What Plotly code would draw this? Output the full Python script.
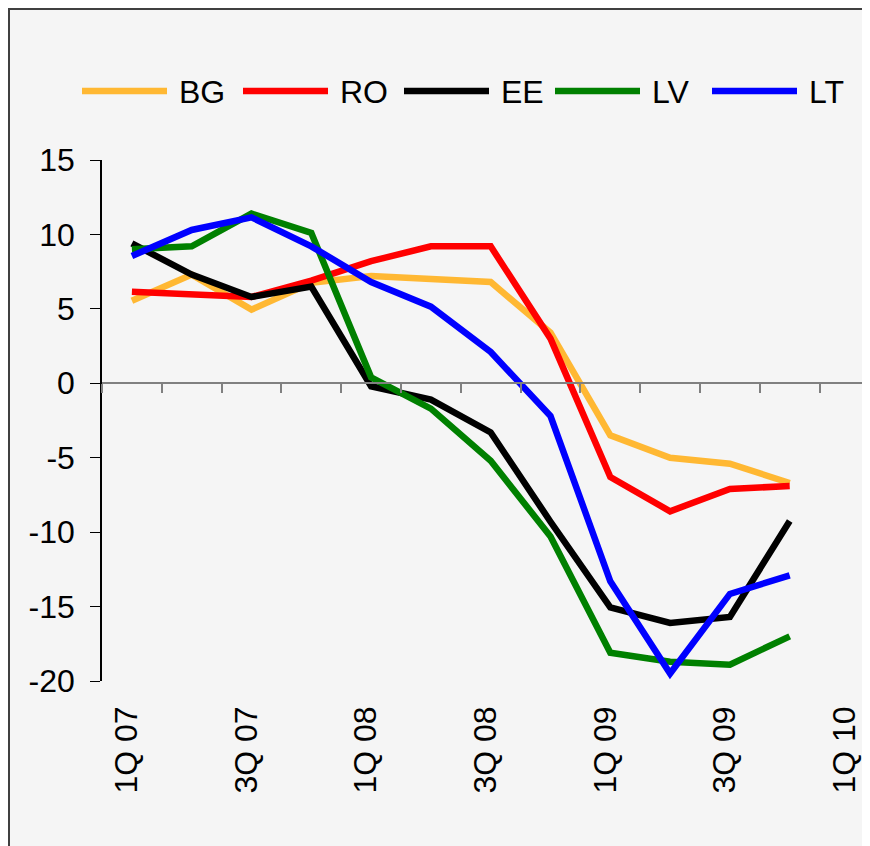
import plotly.graph_objects as go

QUARTERS = ["1Q 07", "2Q 07", "3Q 07", "4Q 07", "1Q 08", "2Q 08", "3Q 08",
            "4Q 08", "1Q 09", "2Q 09", "3Q 09", "4Q 09", "1Q 10"]
TICK_LABELS = ["1Q 07", "3Q 07", "1Q 08", "3Q 08", "1Q 09", "3Q 09", "1Q 10"]
Y_TICKS = [-20, -15, -10, -5, 0, 5, 10, 15]

BG = [5.55, 7.3, 4.95, 6.75, 7.2, 7.05, 6.8, 3.4, -3.5, -5.0, -5.4, -6.7]
RO = [6.15, 6.0, 5.8, 6.9, 8.2, 9.2, 9.2, 3.0, -6.3, -8.6, -7.1, -6.9]
EE = [9.4, 7.3, 5.8, 6.5, -0.2, -1.1, -3.3, -9.3, -15.05, -16.1, -15.7, -9.25]
LV = [9.0, 9.2, 11.4, 10.1, 0.4, -1.7, -5.2, -10.3, -18.1, -18.7, -18.9, -17.0]
LT = [8.55, 10.3, 11.15, 9.2, 6.8, 5.15, 2.1, -2.2, -13.3, -19.5, -14.15, -12.9]

SERIES = [("BG", BG, "#FFB833"), ("RO", RO, "#FF0000"), ("EE", EE, "#000000"),
          ("LV", LV, "#008000"), ("LT", LT, "#0000FF")]

FONT = "Liberation Sans, Arial, sans-serif"
FS = 32
# page has an 8px body margin, so the figure is laid out 8px in from the top-left
OFF = 8
W, H = 854, 838
L, R, T, B = 94, 0, 152, 165
PW, PH = W - L - R, H - T - B
CAT_W = 59.8  # px per quarter


def px_x(p):
    return (p - OFF - L) / PW


def px_y(p):
    return (H - B - (p - OFF)) / PH


fig = go.Figure()
for name, vals, color in SERIES:
    fig.add_trace(go.Scatter(x=QUARTERS[:len(vals)], y=vals, name=name, mode="lines",
                             line=dict(color=color, width=6.5), showlegend=False))

# dummy trace so the zero-line axis gets drawn
fig.add_trace(go.Scatter(x=[0], y=[0], xaxis="x2", mode="markers",
                         marker=dict(opacity=0), showlegend=False, hoverinfo="skip"))

# hand-made legend with long line samples
legend_x = [79, 240, 401, 552, 709]
for (name, _, color), x0 in zip(SERIES, legend_x):
    fig.add_shape(type="line", xref="paper", yref="paper",
                  x0=px_x(x0 + 3), x1=px_x(x0 + 88), y0=px_y(91), y1=px_y(91),
                  line=dict(color=color, width=6.5))
    fig.add_annotation(text=name, xref="paper", yref="paper", x=px_x(x0 + 98), y=px_y(92),
                       xanchor="left", yanchor="middle", showarrow=False,
                       font=dict(size=FS, color="black", family=FONT))

# outer frame
fig.add_shape(type="rect", xref="paper", yref="paper", layer="below",
              x0=px_x(OFF + 1), x1=px_x(900), y0=px_y(OFF + 1), y1=px_y(900),
              line=dict(color="#404040", width=2), fillcolor="#F5F5F5")

xmax = -0.5 + PW / CAT_W
n = len(QUARTERS)
fig.update_layout(
    width=W, height=H,
    margin=dict(l=L, r=R, t=T, b=B),
    paper_bgcolor="#F8F8F8", plot_bgcolor="rgba(0,0,0,0)",
    font=dict(family=FONT, size=FS, color="black"),
    xaxis=dict(type="category", categoryorder="array", categoryarray=QUARTERS,
               range=[-0.5, xmax], tickvals=TICK_LABELS, ticktext=TICK_LABELS,
               tickangle=-90, ticks="", showline=False, showgrid=False, zeroline=False,
               ticklabelstandoff=18, ticklabelshift=-5, automargin=False),
    xaxis2=dict(overlaying="x", anchor="free", position=20 / 35,
                range=[-0.5, xmax],
                tickvals=[i - 0.5 for i in range(n + 1)], showticklabels=False,
                ticks="outside", ticklen=9, tickwidth=2, tickcolor="#808080",
                showline=True, linecolor="#808080", linewidth=2,
                showgrid=False, zeroline=False, automargin=False),
    yaxis=dict(range=[-20, 15], tickvals=Y_TICKS, ticktext=[str(v) for v in Y_TICKS],
               showline=True, linecolor="black", linewidth=1.5,
               ticks="outside", ticklen=10, tickcolor="black", showgrid=False,
               zeroline=False, ticklabelstandoff=9, automargin=False),
)

fig.write_html("out.html")
